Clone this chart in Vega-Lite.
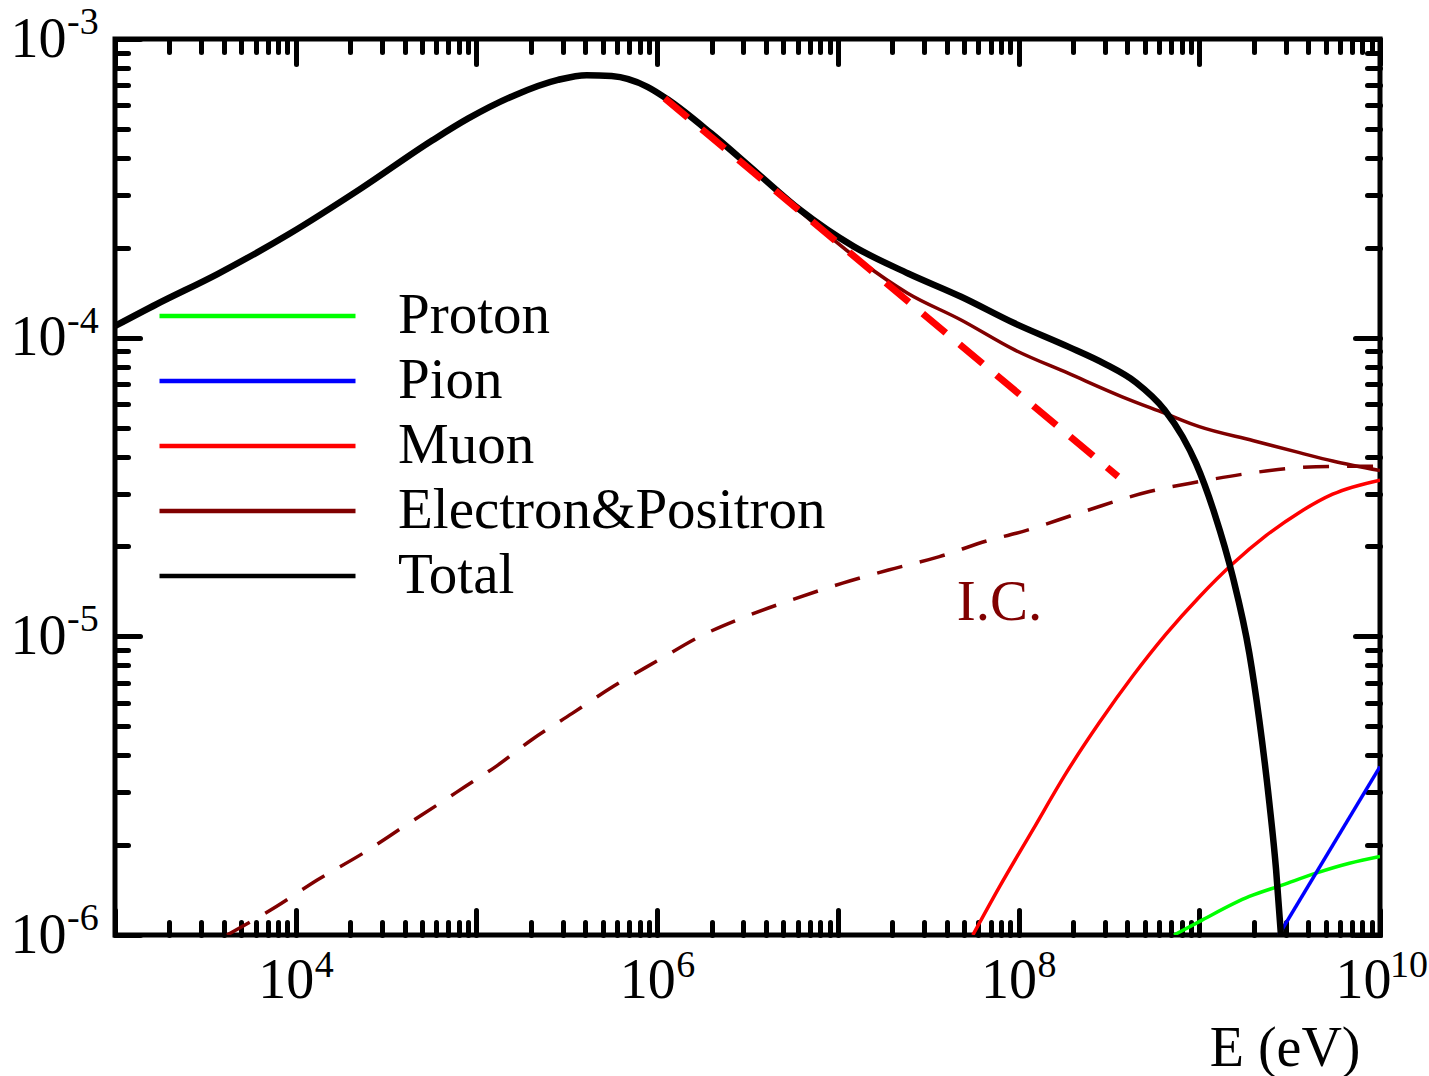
{
  "$schema": "https://vega.github.io/schema/vega-lite/v6.json",
  "width": 1265,
  "height": 896,
  "autosize": {"type": "none"},
  "padding": {"left": 115, "top": 39, "right": 49, "bottom": 141},
  "background": "white",
  "config": {
    "view": {"stroke": "#000000", "strokeWidth": 5},
    "axis": {"grid": false, "domain": false, "labelFont": "Liberation Serif", "titleFont": "Liberation Serif", "labelColor": "#000000", "titleColor": "#000000"}
  },
  "datasets": {
    "curves": [
      {"series": "Proton", "E": 724400000, "v": 1.0e-6},
      {"series": "Proton", "E": 1000000000, "v": 1.109e-6},
      {"series": "Proton", "E": 1892000000, "v": 1.346e-6},
      {"series": "Proton", "E": 2897000000, "v": 1.472e-6},
      {"series": "Proton", "E": 4426000000, "v": 1.611e-6},
      {"series": "Proton", "E": 6776000000, "v": 1.738e-6},
      {"series": "Proton", "E": 10000000000, "v": 1.832e-6},
      {"series": "Pion", "E": 2754000000, "v": 1.0e-6},
      {"series": "Pion", "E": 10000000000, "v": 3.664e-6},
      {"series": "Muon", "E": 55850000, "v": 1.0e-6},
      {"series": "Muon", "E": 78520000, "v": 1.452e-6},
      {"series": "Muon", "E": 119900000, "v": 2.249e-6},
      {"series": "Muon", "E": 183200000, "v": 3.483e-6},
      {"series": "Muon", "E": 280500000, "v": 5.152e-6},
      {"series": "Muon", "E": 428500000, "v": 7.362e-6},
      {"series": "Muon", "E": 656100000, "v": 1.019e-5},
      {"series": "Muon", "E": 1000000000, "v": 1.355e-5},
      {"series": "Muon", "E": 1531000000, "v": 1.750e-5},
      {"series": "Muon", "E": 2339000000, "v": 2.173e-5},
      {"series": "Muon", "E": 3581000000, "v": 2.600e-5},
      {"series": "Muon", "E": 5470000000, "v": 2.992e-5},
      {"series": "Muon", "E": 10000000000, "v": 3.334e-5},
      {"series": "Electron&Positron", "E": 1000, "v": 1.094e-4},
      {"series": "Electron&Positron", "E": 1698, "v": 1.294e-4},
      {"series": "Electron&Positron", "E": 3690, "v": 1.633e-4},
      {"series": "Electron&Positron", "E": 9183, "v": 2.223e-4},
      {"series": "Electron&Positron", "E": 22909, "v": 3.155e-4},
      {"series": "Electron&Positron", "E": 57148, "v": 4.581e-4},
      {"series": "Electron&Positron", "E": 90157, "v": 5.420e-4},
      {"series": "Electron&Positron", "E": 163305, "v": 6.486e-4},
      {"series": "Electron&Positron", "E": 282488, "v": 7.295e-4},
      {"series": "Electron&Positron", "E": 407380, "v": 7.568e-4},
      {"series": "Electron&Positron", "E": 559758, "v": 7.516e-4},
      {"series": "Electron&Positron", "E": 883080, "v": 6.918e-4},
      {"series": "Electron&Positron", "E": 1161449, "v": 6.237e-4},
      {"series": "Electron&Positron", "E": 1990536, "v": 4.831e-4},
      {"series": "Electron&Positron", "E": 3597493, "v": 3.548e-4},
      {"series": "Electron&Positron", "E": 6208690, "v": 2.642e-4},
      {"series": "Electron&Positron", "E": 13430000, "v": 1.799e-4},
      {"series": "Electron&Positron", "E": 24320000, "v": 1.409e-4},
      {"series": "Electron&Positron", "E": 48080000, "v": 1.146e-4},
      {"series": "Electron&Positron", "E": 95060000, "v": 9.099e-5},
      {"series": "Electron&Positron", "E": 187900000, "v": 7.603e-5},
      {"series": "Electron&Positron", "E": 371500000, "v": 6.353e-5},
      {"series": "Electron&Positron", "E": 642700000, "v": 5.585e-5},
      {"series": "Electron&Positron", "E": 1000000000, "v": 5.035e-5},
      {"series": "Electron&Positron", "E": 1995000000, "v": 4.519e-5},
      {"series": "Electron&Positron", "E": 3581000000, "v": 4.121e-5},
      {"series": "Electron&Positron", "E": 5470000000, "v": 3.864e-5},
      {"series": "Electron&Positron", "E": 10000000000, "v": 3.589e-5},
      {"series": "Total", "E": 1000, "v": 1.094e-4},
      {"series": "Total", "E": 1698, "v": 1.294e-4},
      {"series": "Total", "E": 3690, "v": 1.633e-4},
      {"series": "Total", "E": 9183, "v": 2.223e-4},
      {"series": "Total", "E": 22909, "v": 3.155e-4},
      {"series": "Total", "E": 57148, "v": 4.581e-4},
      {"series": "Total", "E": 90157, "v": 5.420e-4},
      {"series": "Total", "E": 163305, "v": 6.486e-4},
      {"series": "Total", "E": 282488, "v": 7.295e-4},
      {"series": "Total", "E": 407380, "v": 7.568e-4},
      {"series": "Total", "E": 559758, "v": 7.516e-4},
      {"series": "Total", "E": 883080, "v": 6.918e-4},
      {"series": "Total", "E": 1161449, "v": 6.237e-4},
      {"series": "Total", "E": 1990536, "v": 4.831e-4},
      {"series": "Total", "E": 3597493, "v": 3.548e-4},
      {"series": "Total", "E": 6208690, "v": 2.673e-4},
      {"series": "Total", "E": 12274000, "v": 2.018e-4},
      {"series": "Total", "E": 24322000, "v": 1.644e-4},
      {"series": "Total", "E": 48084000, "v": 1.371e-4},
      {"series": "Total", "E": 95060000, "v": 1.117e-4},
      {"series": "Total", "E": 187900000, "v": 9.333e-5},
      {"series": "Total", "E": 296500000, "v": 8.204e-5},
      {"series": "Total", "E": 446700000, "v": 7.079e-5},
      {"series": "Total", "E": 642700000, "v": 5.728e-5},
      {"series": "Total", "E": 807200000, "v": 4.667e-5},
      {"series": "Total", "E": 959400000, "v": 3.793e-5},
      {"series": "Total", "E": 1216200000, "v": 2.570e-5},
      {"series": "Total", "E": 1531000000, "v": 1.585e-5},
      {"series": "Total", "E": 1892000000, "v": 8.770e-6},
      {"series": "Total", "E": 2148000000, "v": 5.248e-6},
      {"series": "Total", "E": 2443000000, "v": 2.761e-6},
      {"series": "Total", "E": 2661000000, "v": 1.652e-6},
      {"series": "Total", "E": 2831000000, "v": 1.0e-6}
    ],
    "ic": [
      {"E": 4169, "v": 1.0e-6},
      {"E": 7816, "v": 1.245e-6},
      {"E": 13152, "v": 1.528e-6},
      {"E": 23605, "v": 1.879e-6},
      {"E": 39628, "v": 2.307e-6},
      {"E": 66834, "v": 2.831e-6},
      {"E": 86696, "v": 3.141e-6},
      {"E": 127938, "v": 3.664e-6},
      {"E": 201372, "v": 4.498e-6},
      {"E": 338844, "v": 5.521e-6},
      {"E": 570164, "v": 6.792e-6},
      {"E": 1023300, "v": 8.337e-6},
      {"E": 1718000, "v": 9.977e-6},
      {"E": 3083000, "v": 1.164e-5},
      {"E": 5534000, "v": 1.324e-5},
      {"E": 10620000, "v": 1.507e-5},
      {"E": 19050000, "v": 1.667e-5},
      {"E": 36480000, "v": 1.849e-5},
      {"E": 69820000, "v": 2.104e-5},
      {"E": 97050000, "v": 2.213e-5},
      {"E": 227000000, "v": 2.612e-5},
      {"E": 529700000, "v": 3.055e-5},
      {"E": 1000000000, "v": 3.296e-5},
      {"E": 1892000000, "v": 3.516e-5},
      {"E": 4426000000, "v": 3.698e-5},
      {"E": 10000000000, "v": 3.715e-5}
    ],
    "fit": [
      {"E": 1102000, "v": 6.324e-4},
      {"E": 354800000, "v": 3.428e-5}
    ],
    "notes": [
      {"E": 78500000, "v": 1.135e-5, "text": "I.C."}
    ],
    "xexp": [
      {"E": 10000, "v": 0.000001, "t": "4"},
      {"E": 1000000, "v": 0.000001, "t": "6"},
      {"E": 100000000, "v": 0.000001, "t": "8"}
    ],
    "xexp10": [
      {"E": 10000000000, "v": 0.000001, "t": "10"}
    ],
    "yexp": [
      {"E": 1000, "v": 0.001, "t": "-3"},
      {"E": 1000, "v": 0.0001, "t": "-4"},
      {"E": 1000, "v": 0.00001, "t": "-5"},
      {"E": 1000, "v": 0.000001, "t": "-6"}
    ]
  },
  "layer": [
    {
      "data": {"name": "curves"},
      "transform": [{"filter": "datum.series != 'Total'"}],
      "mark": {"type": "line", "interpolate": "monotone", "clip": true, "strokeWidth": 3.5, "strokeCap": "butt", "strokeJoin": "round"},
      "encoding": {
        "x": {
          "field": "E", "type": "quantitative",
          "scale": {"type": "log", "domain": [1000, 10000000000], "nice": false},
          "axis": {
            "orient": "bottom",
            "values": [1000,2000,3000,4000,5000,6000,7000,8000,9000,10000,20000,30000,40000,50000,60000,70000,80000,90000,100000,200000,300000,400000,500000,600000,700000,800000,900000,1000000,2000000,3000000,4000000,5000000,6000000,7000000,8000000,9000000,10000000,20000000,30000000,40000000,50000000,60000000,70000000,80000000,90000000,100000000,200000000,300000000,400000000,500000000,600000000,700000000,800000000,900000000,1000000000,2000000000,3000000000,4000000000,5000000000,6000000000,7000000000,8000000000,9000000000,10000000000],
            "labelExpr": "datum.value == 10000 || datum.value == 1000000 || datum.value == 100000000 || datum.value == 10000000000 ? '10' : ''",
            "labelOverlap": false, "labelFlush": false,
            "labelFontSize": 56, "labelPadding": 43, "labelBaseline": "top", "labelAlign": "right",
            "labelOffset": {"condition": {"test": "datum.value == 10000000000", "value": 11}, "value": 18},
            "tickSize": {"condition": {"test": "indexof([1000,10000,100000,1000000,10000000,100000000,1000000000,10000000000], datum.value) >= 0", "value": -25}, "value": -13},
            "tickWidth": 5, "tickColor": "#000000", "tickCap": "round",
            "title": "E (eV)", "titleFontSize": 56, "titleFontWeight": "normal",
            "titleAnchor": "end", "titleAlign": "right", "titleBaseline": "alphabetic",
            "titleX": 1245, "titleY": 130
          }
        },
        "y": {
          "field": "v", "type": "quantitative",
          "scale": {"type": "log", "domain": [0.000001, 0.001], "nice": false},
          "axis": {
            "orient": "left",
            "values": [0.000001,0.000002,0.000003,0.000004,0.000005,0.000006,0.000007,0.000008,0.000009,0.00001,0.00002,0.00003,0.00004,0.00005,0.00006,0.00007,0.00008,0.00009,0.0001,0.0002,0.0003,0.0004,0.0005,0.0006,0.0007,0.0008,0.0009,0.001],
            "labelExpr": "datum.value == 0.001 || datum.value == 0.0001 || datum.value == 0.00001 || datum.value == 0.000001 ? '10' : ''",
            "labelOverlap": false, "labelFlush": false,
            "labelFontSize": 56, "labelPadding": 74, "labelBaseline": "middle",
            "tickSize": {"condition": {"test": "indexof([0.000001,0.00001,0.0001,0.001], datum.value) >= 0", "value": -25}, "value": -13},
            "tickWidth": 5, "tickColor": "#000000", "tickCap": "round",
            "title": null
          }
        },
        "color": {
          "field": "series", "type": "nominal",
          "scale": {"domain": ["Proton", "Pion", "Muon", "Electron&Positron", "Total"], "range": ["#00ff00", "#0000ff", "#ff0000", "#800000", "#000000"]},
          "legend": {
            "orient": "none", "legendX": 42, "legendY": 249, "title": null,
            "symbolType": "stroke", "symbolSize": 38416, "symbolStrokeWidth": 4.5,
            "labelFont": "Liberation Serif", "labelFontSize": 57, "labelColor": "#000000",
            "labelOffset": 40, "rowPadding": 8, "clipHeight": 56, "padding": 0, "labelLimit": 0
          }
        },
        "order": {"field": "E", "type": "quantitative"}
      }
    },
    {
      "data": {"name": "curves"},
      "transform": [{"filter": "datum.series == 'Total'"}],
      "mark": {"type": "line", "interpolate": "monotone", "clip": true, "strokeWidth": 6.5, "strokeCap": "butt", "strokeJoin": "round"},
      "encoding": {
        "x": {"field": "E", "type": "quantitative", "scale": {"type": "log", "domain": [1000, 10000000000], "nice": false}, "axis": null},
        "y": {"field": "v", "type": "quantitative", "scale": {"type": "log", "domain": [0.000001, 0.001], "nice": false}, "axis": null},
        "color": {
          "field": "series", "type": "nominal",
          "scale": {"domain": ["Proton", "Pion", "Muon", "Electron&Positron", "Total"], "range": ["#00ff00", "#0000ff", "#ff0000", "#800000", "#000000"]},
          "legend": {
            "orient": "none", "legendX": 42, "legendY": 249, "title": null,
            "symbolType": "stroke", "symbolSize": 38416, "symbolStrokeWidth": 4.5,
            "labelFont": "Liberation Serif", "labelFontSize": 57, "labelColor": "#000000",
            "labelOffset": 40, "rowPadding": 8, "clipHeight": 56, "padding": 0, "labelLimit": 0
          }
        },
        "order": {"field": "E", "type": "quantitative"}
      }
    },
    {
      "data": {"name": "ic"},
      "mark": {"type": "line", "interpolate": "monotone", "clip": true, "color": "#800000", "strokeWidth": 3.5, "strokeDash": [26, 18], "strokeCap": "butt"},
      "encoding": {
        "x": {
          "field": "E", "type": "quantitative",
          "scale": {"type": "log", "domain": [1000, 10000000000], "nice": false},
          "axis": {
            "orient": "top",
            "values": [1000,2000,3000,4000,5000,6000,7000,8000,9000,10000,20000,30000,40000,50000,60000,70000,80000,90000,100000,200000,300000,400000,500000,600000,700000,800000,900000,1000000,2000000,3000000,4000000,5000000,6000000,7000000,8000000,9000000,10000000,20000000,30000000,40000000,50000000,60000000,70000000,80000000,90000000,100000000,200000000,300000000,400000000,500000000,600000000,700000000,800000000,900000000,1000000000,2000000000,3000000000,4000000000,5000000000,6000000000,7000000000,8000000000,9000000000,10000000000],
            "labels": false, "title": null,
            "tickSize": {"condition": {"test": "indexof([1000,10000,100000,1000000,10000000,100000000,1000000000,10000000000], datum.value) >= 0", "value": -25}, "value": -13},
            "tickWidth": 5, "tickColor": "#000000", "tickCap": "round"
          }
        },
        "y": {
          "field": "v", "type": "quantitative",
          "scale": {"type": "log", "domain": [0.000001, 0.001], "nice": false},
          "axis": {
            "orient": "right",
            "values": [0.000001,0.000002,0.000003,0.000004,0.000005,0.000006,0.000007,0.000008,0.000009,0.00001,0.00002,0.00003,0.00004,0.00005,0.00006,0.00007,0.00008,0.00009,0.0001,0.0002,0.0003,0.0004,0.0005,0.0006,0.0007,0.0008,0.0009,0.001],
            "labels": false, "title": null,
            "tickSize": {"condition": {"test": "indexof([0.000001,0.00001,0.0001,0.001], datum.value) >= 0", "value": -25}, "value": -13},
            "tickWidth": 5, "tickColor": "#000000", "tickCap": "round"
          }
        }
      }
    },
    {
      "data": {"name": "fit"},
      "mark": {"type": "line", "clip": true, "color": "#ff0000", "strokeWidth": 7, "strokeDash": [30, 18], "strokeCap": "butt"},
      "encoding": {
        "x": {"field": "E", "type": "quantitative", "scale": {"type": "log", "domain": [1000, 10000000000], "nice": false}, "axis": null},
        "y": {"field": "v", "type": "quantitative", "scale": {"type": "log", "domain": [0.000001, 0.001], "nice": false}, "axis": null}
      }
    },
    {
      "data": {"name": "notes"},
      "mark": {"type": "text", "font": "Liberation Serif", "fontSize": 57, "color": "#800000", "align": "center", "baseline": "alphabetic"},
      "encoding": {
        "x": {"field": "E", "type": "quantitative", "scale": {"type": "log", "domain": [1000, 10000000000], "nice": false}, "axis": null},
        "y": {"field": "v", "type": "quantitative", "scale": {"type": "log", "domain": [0.000001, 0.001], "nice": false}, "axis": null},
        "text": {"field": "text"}
      }
    },
    {
      "data": {"name": "xexp"},
      "mark": {"type": "text", "font": "Liberation Serif", "fontSize": 38, "color": "#000000", "align": "left", "baseline": "alphabetic", "dx": 19, "dy": 42, "clip": false},
      "encoding": {
        "x": {"field": "E", "type": "quantitative", "scale": {"type": "log", "domain": [1000, 10000000000], "nice": false}, "axis": null},
        "y": {"field": "v", "type": "quantitative", "scale": {"type": "log", "domain": [0.000001, 0.001], "nice": false}, "axis": null},
        "text": {"field": "t"}
      }
    },
    {
      "data": {"name": "xexp10"},
      "mark": {"type": "text", "font": "Liberation Serif", "fontSize": 38, "color": "#000000", "align": "left", "baseline": "alphabetic", "dx": 10, "dy": 42, "clip": false},
      "encoding": {
        "x": {"field": "E", "type": "quantitative", "scale": {"type": "log", "domain": [1000, 10000000000], "nice": false}, "axis": null},
        "y": {"field": "v", "type": "quantitative", "scale": {"type": "log", "domain": [0.000001, 0.001], "nice": false}, "axis": null},
        "text": {"field": "t"}
      }
    },
    {
      "data": {"name": "yexp"},
      "mark": {"type": "text", "font": "Liberation Serif", "fontSize": 38, "color": "#000000", "align": "left", "baseline": "alphabetic", "dx": -48, "dy": -5, "clip": false},
      "encoding": {
        "x": {"field": "E", "type": "quantitative", "scale": {"type": "log", "domain": [1000, 10000000000], "nice": false}, "axis": null},
        "y": {"field": "v", "type": "quantitative", "scale": {"type": "log", "domain": [0.000001, 0.001], "nice": false}, "axis": null},
        "text": {"field": "t"}
      }
    }
  ],
  "resolve": {"axis": {"x": "independent", "y": "independent"}}
}
